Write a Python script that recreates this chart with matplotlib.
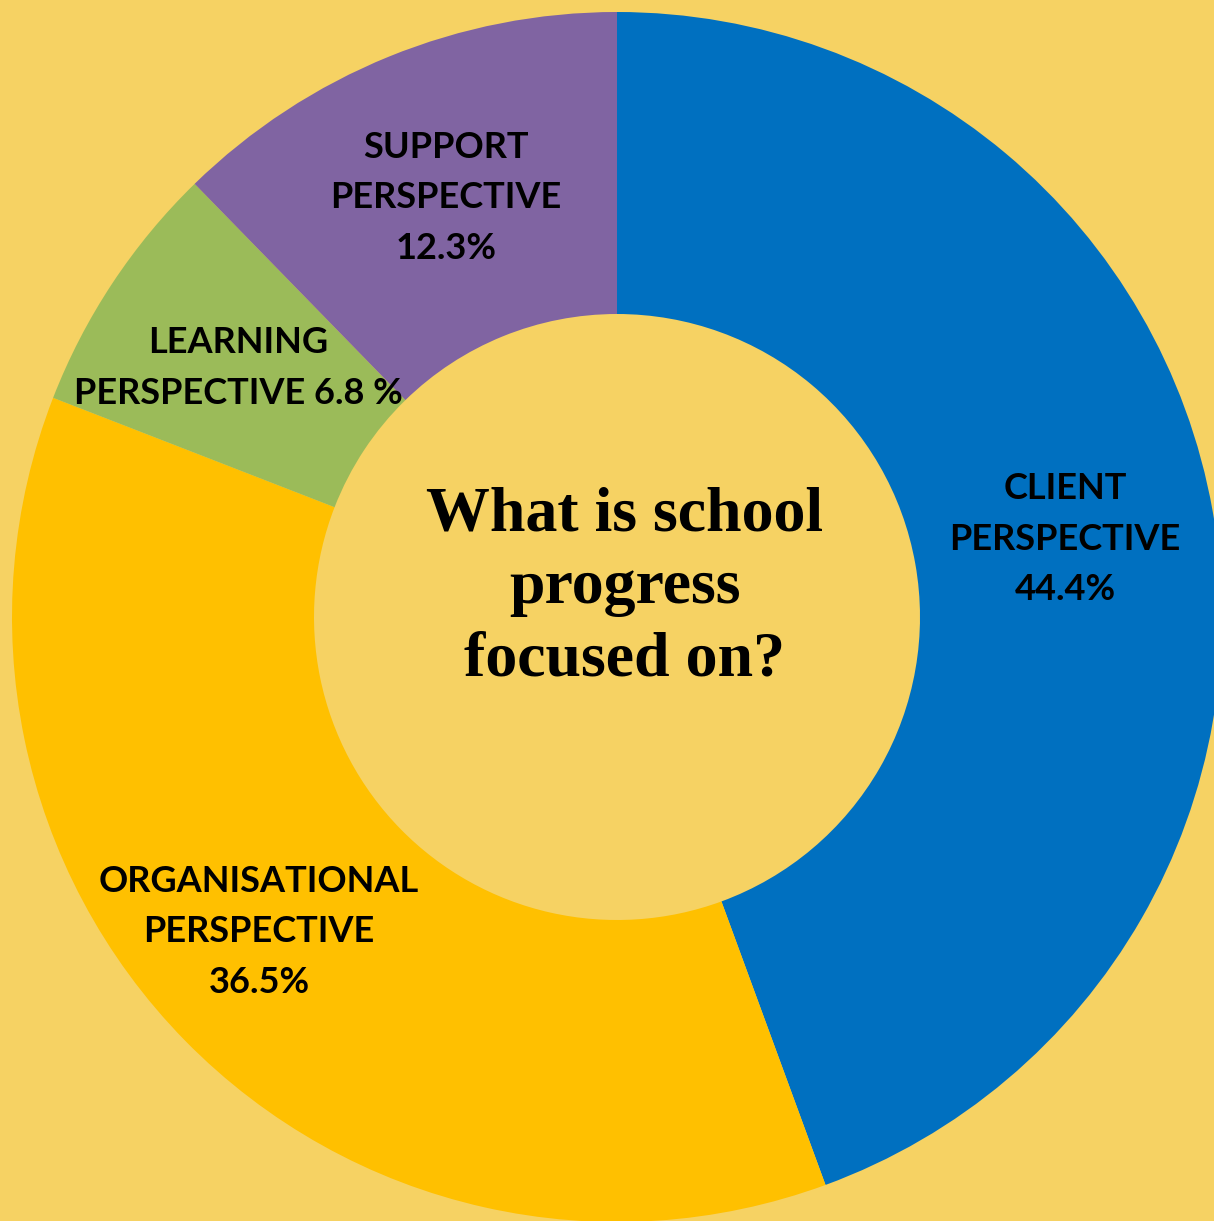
import matplotlib.pyplot as plt

# Share of school progress focus by perspective (clockwise from 12 o'clock)
categories = ["CLIENT\nPERSPECTIVE", "ORGANISATIONAL\nPERSPECTIVE", "LEARNING\nPERSPECTIVE", "SUPPORT\nPERSPECTIVE"]
shares = [44.4, 36.5, 6.8, 12.3]
colors = ["#0070C0", "#FFC000", "#9BBB59", "#8064A2"]
bg = "#F6D263"

W, H = 1214, 1221
fig = plt.figure(figsize=(W / 100, H / 100), dpi=100, facecolor=bg)
ax = fig.add_axes([0, 0, 1, 1])
ax.set_facecolor(bg)

cx, cy = 617, H - 617
r_out, r_in = 605, 303

ax.pie(shares, colors=colors, startangle=90, counterclock=False,
       radius=r_out, center=(cx, cy),
       wedgeprops=dict(width=r_out - r_in, linewidth=0))
ax.set_xlim(0, W)
ax.set_ylim(0, H)
ax.set_aspect("equal")
ax.axis("off")

lab = dict(family="Lato", weight="bold", fontsize=26, color="black",
           ha="center", va="center", linespacing=1.66)

# label anchor points in pixel space (y measured from the top)
ax.text(1065, H - 539, f"{categories[0]}\n{shares[0]}%", **lab)
ax.text(259, H - 932, f"{categories[1]}\n{shares[1]}%", **lab)
ax.text(238, H - 368, f"LEARNING\nPERSPECTIVE {shares[2]} %", **lab)
ax.text(446, H - 198, f"{categories[3]}\n{shares[3]}%", **lab)

ax.text(625, H - 588, "What is school\nprogress\nfocused on?",
        family="Liberation Serif", weight="bold", fontsize=46,
        ha="center", va="center", linespacing=1.33)

fig.savefig("out.png", dpi=100, facecolor=bg)
